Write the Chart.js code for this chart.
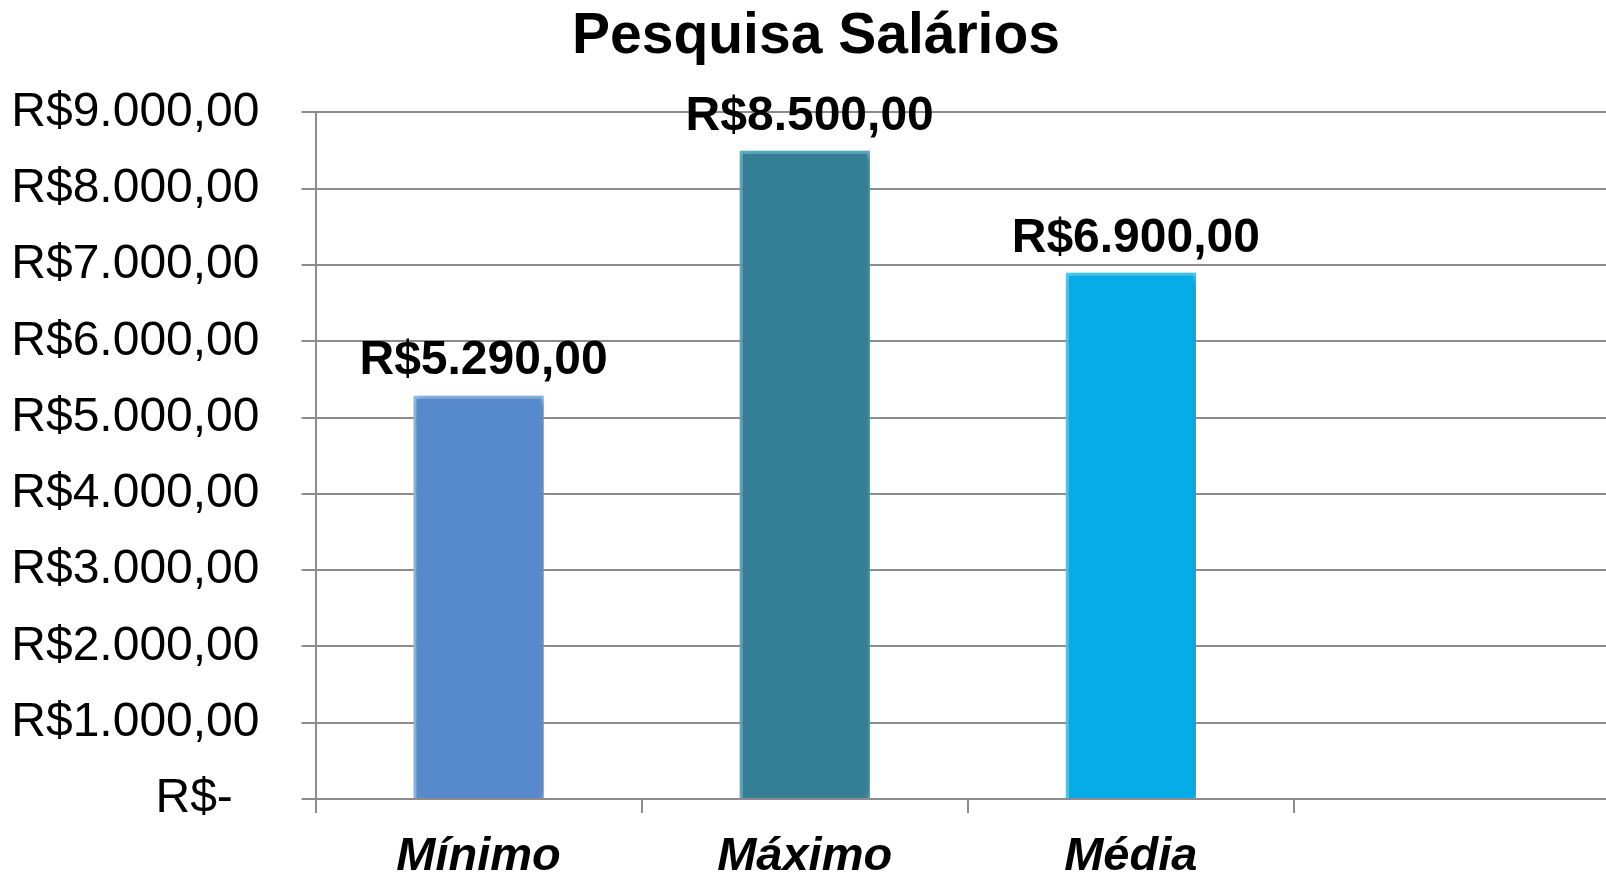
<!DOCTYPE html>
<html>
<head>
<meta charset="utf-8">
<script src="https://cdn.jsdelivr.net/npm/chart.js@4/dist/chart.umd.min.js"></script>
<style>
  html, body { margin: 0; padding: 0; background: #fff; overflow: hidden; }
  #wrap { position: relative; width: 1620px; height: 876px; }
</style>
</head>
<body>
<div id="wrap"><canvas id="c"></canvas></div>
<script>
// ---- data ----
const categories = ['Mínimo', 'Máximo', 'Média', ''];
const salaryValues = [5290, 8500, 6900, null];
const valueLabels = ['R$5.290,00', 'R$8.500,00', 'R$6.900,00', ''];
const yTickLabels = ['R$-  ', 'R$1.000,00', 'R$2.000,00', 'R$3.000,00', 'R$4.000,00',
                     'R$5.000,00', 'R$6.000,00', 'R$7.000,00', 'R$8.000,00', 'R$9.000,00'];
const chartTitle = 'Pesquisa Salários';

// ---- styles ----
const barFill = ['#568ACC', '#347F96', '#06ACE8', '#06ACE8'];
const barEdge = ['#8CC0F5', '#5BB4CB', '#3FD2F7', '#3FD2F7'];
const gridColor = '#8C8C8C';
const FONT = '"Liberation Sans", Arial, sans-serif';

const shadowPlugin = {
  id: 'barShadow',
  beforeDatasetsDraw(chart) {
    const ctx = chart.ctx;
    ctx.save();
    ctx.shadowColor = 'rgba(0,0,0,0.4)';
    ctx.shadowBlur = 8;
    ctx.shadowOffsetX = 3;
    ctx.shadowOffsetY = 2;
  },
  afterDatasetsDraw(chart) {
    chart.ctx.restore();
  }
};

const valueLabelPlugin = {
  id: 'valueLabels',
  afterDatasetsDraw(chart) {
    const ctx = chart.ctx;
    const meta = chart.getDatasetMeta(0);
    ctx.save();
    ctx.font = 'bold 48px ' + FONT;
    ctx.fillStyle = '#000';
    ctx.textAlign = 'center';
    ctx.textBaseline = 'alphabetic';
    meta.data.forEach((bar, i) => {
      if (salaryValues[i] == null) return;
      ctx.fillText(valueLabels[i], bar.x + 5, bar.y - 21);
    });
    ctx.restore();
  }
};

new Chart(document.getElementById('c'), {
  type: 'bar',
  data: {
    labels: categories,
    datasets: [{
      data: salaryValues,
      backgroundColor: barFill,
      borderColor: barEdge,
      borderWidth: 3,
      categoryPercentage: 1.0,
      barPercentage: 0.4
    }]
  },
  options: {
    responsive: true,
    maintainAspectRatio: false,
    animation: false,
    layout: { padding: { left: 12, right: 0, top: 0, bottom: 0 } },
    plugins: {
      legend: { display: false },
      tooltip: { enabled: false },
      title: {
        display: true,
        text: chartTitle,
        color: '#000',
        font: { family: FONT, size: 57, weight: 'bold' },
        padding: { top: 3, bottom: 41 }
      }
    },
    scales: {
      x: {
        grid: {
          offset: true,
          drawOnChartArea: false,
          drawTicks: true,
          tickLength: 14,
          color: gridColor,
          lineWidth: 2
        },
        border: { display: true, color: gridColor, width: 2 },
        ticks: {
          color: '#000',
          padding: 16,
          font: { family: FONT, size: 47, weight: 'bold', style: 'italic' }
        },
        afterFit(scale) { scale.height = 77; }
      },
      y: {
        min: 0,
        max: 9000,
        ticks: {
          stepSize: 1000,
          color: '#000',
          padding: 42,
          font: { family: FONT, size: 48 },
          callback: (v, i) => yTickLabels[i]
        },
        grid: {
          color: gridColor,
          lineWidth: 2,
          tickLength: 14,
          drawTicks: true
        },
        border: { display: true, color: gridColor, width: 2 },
        afterFit(scale) { scale.width = 303.5; }
      }
    }
  },
  plugins: [shadowPlugin, valueLabelPlugin]
});
</script>
</body>
</html>
